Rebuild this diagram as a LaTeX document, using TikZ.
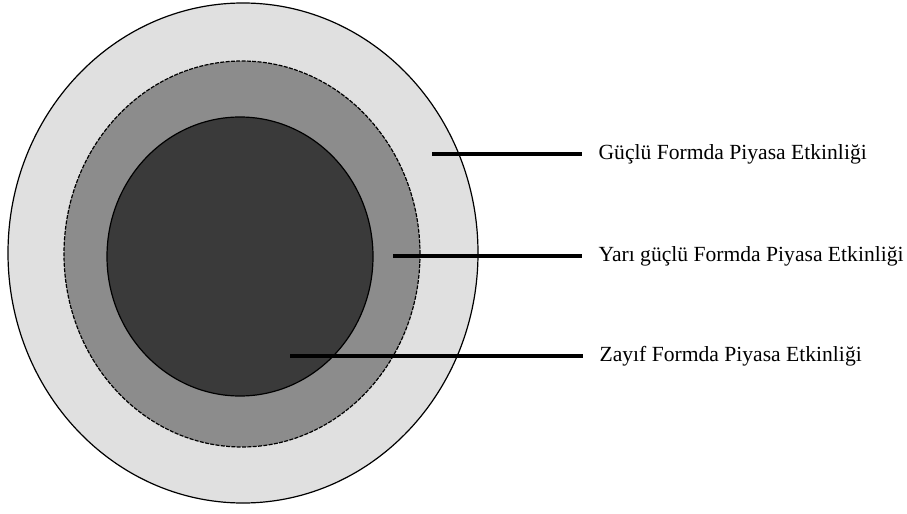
\documentclass[tikz,border=0pt]{standalone}
\usepackage{fontspec}
\setmainfont{Liberation Serif}
\usetikzlibrary{shapes.geometric, positioning}
\definecolor{ringout}{RGB}{224,224,224}
\definecolor{ringmid}{RGB}{140,140,140}
\definecolor{ringin}{RGB}{58,58,58}

\begin{document}
\begin{tikzpicture}[x=0.75pt, y=-0.75pt, line width=0.9pt,
    ring/.style={draw, ellipse, inner sep=0pt},
    lbl/.style={anchor=west, inner xsep=12pt, inner ysep=0pt, font=\fontsize{16.2}{19}\selectfont},
    pointer/.style={line width=2.3pt}]
      \useasboundingbox (0,0) rectangle (907,514);
      \node[ring, fill=ringout, minimum width=352.5pt, minimum height=375pt] (outer) at (243,253) {};
      \node[ring, fill=ringmid, dashed, dash pattern=on 3pt off 1pt, minimum width=267pt, minimum height=289.5pt] (middle) at (242,254) {};
      \node[ring, fill=ringin, minimum width=199.5pt, minimum height=209.25pt] (inner) at (240,256.5) {};

      \coordinate (p1) at (432,154);
      \coordinate (p2) at (393,256);
      \coordinate (p3) at (290,356);
      \node[lbl] (strong) at (582,154) {Güçlü Formda Piyasa Etkinliği};
      \node[lbl] (semi) at (582,256) {Yarı güçlü Formda Piyasa Etkinliği};
      \node[lbl] (weak) at (583,356) {Zayıf Formda Piyasa Etkinliği};

      \draw[pointer] (p1) -- (strong.west);
      \draw[pointer] (p2) -- (semi.west);
      \draw[pointer] (p3) -- (weak.west);
    \end{tikzpicture}
\end{document}
